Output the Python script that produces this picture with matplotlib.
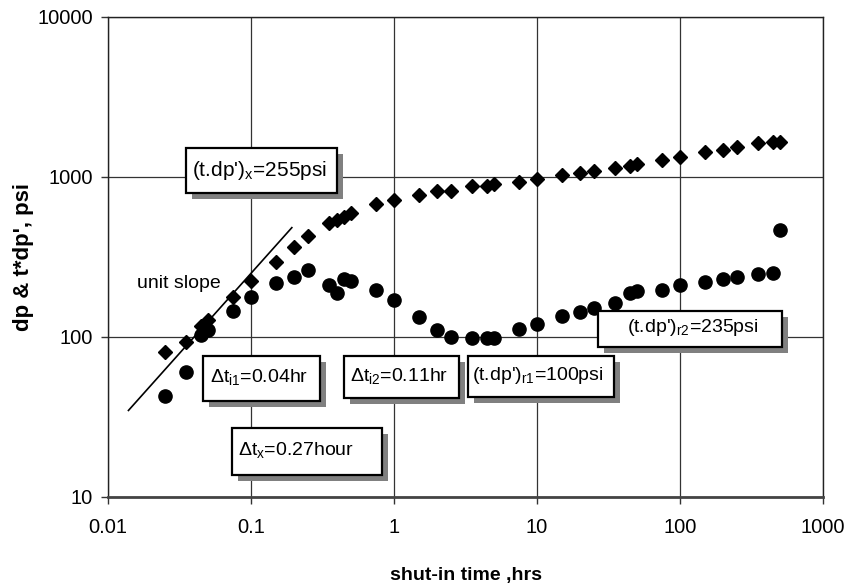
import matplotlib
matplotlib.use("Agg")
import matplotlib.pyplot as plt
from matplotlib.patches import Rectangle

plt.rcParams['font.family'] = ['Liberation Sans', 'DejaVu Sans']
plt.rcParams['mathtext.fontset'] = 'custom'
plt.rcParams['mathtext.rm'] = 'Liberation Sans'
plt.rcParams['mathtext.it'] = 'Liberation Sans'

# ---- data ----
t_hrs = [0.025, 0.035, 0.045, 0.05, 0.075, 0.1, 0.15, 0.2, 0.25, 0.35, 0.4, 0.45,
         0.5, 0.75, 1, 1.5, 2, 2.5, 3.5, 4.5, 5, 7.5, 10, 15, 20, 25, 35, 45, 50,
         75, 100, 150, 200, 250, 350, 450, 500]
dp_psi = [81, 93, 117, 128, 178, 224, 296, 365, 425, 518, 538, 566, 593, 675, 718,
          769, 818, 818, 875, 873, 902, 935, 965, 1029, 1063, 1095, 1133, 1171, 1200,
          1277, 1334, 1427, 1475, 1546, 1624, 1662, 1662]
tdp_psi = [43, 60, 103, 111, 145, 177, 218, 238, 264, 211, 189, 231, 224, 197, 170,
           133, 110, 100, 99, 98, 98, 113, 121, 135, 143, 151, 163, 188, 193, 196,
           211, 222, 230, 238, 248, 252, 467]
unit_t = [0.0139, 0.193]
unit_c = 2500.0

xticks = [0.01, 0.1, 1, 10, 100, 1000]
xticklabels = ['0.01', '0.1', '1', '10', '100', '1000']
yticks = [10, 100, 1000, 10000]
yticklabels = ['10', '100', '1000', '10000']

W, H = 848, 585
L, R, T, B = 108, 823, 17, 497

fig = plt.figure(figsize=(W / 100, H / 100), dpi=100)
ax = fig.add_axes([L / W, 1 - B / H, (R - L) / W, (B - T) / H])
ax.set_xscale('log')
ax.set_yscale('log')
ax.set_xlim(0.01, 1000)
ax.set_ylim(10, 10000)

ax.grid(True, which='major', color='#333333', linewidth=0.9)
ax.set_axisbelow(True)
ax.minorticks_off()
ax.set_xticks(xticks)
ax.set_xticklabels(xticklabels)
ax.set_yticks(yticks)
ax.set_yticklabels(yticklabels)
ax.tick_params(axis='both', which='major', length=5, width=1, labelsize=14.5, color='#333333')
ax.tick_params(axis='x', pad=10)
ax.tick_params(axis='y', pad=6)
for s in ax.spines.values():
    s.set_color('#222222')
    s.set_linewidth(1)
ax.spines['bottom'].set_linewidth(2)
ax.spines['bottom'].set_color('#444444')

ax.plot(t_hrs, dp_psi, linestyle='none', marker='D', markersize=7.5, color='black')
ax.plot(t_hrs, tdp_psi, linestyle='none', marker='o', markersize=9.5, color='black')
ax.plot(unit_t, [unit_c * t for t in unit_t], color='black', linewidth=1.2)

ax.set_xlabel('shut-in time ,hrs', fontsize=14, fontweight='bold', labelpad=22)
ax.set_ylabel("dp & t*dp', psi", fontsize=16, fontweight='bold', labelpad=2)


def fx(px):
    return (px - L) / (R - L)


def fy(py):
    return (B - py) / (B - T)


# annotation boxes: (x0, y0, x1, y1) in pixels, text, text left px, text centre y px, fontsize
boxes = [
    ((186, 148, 337, 193), "(t.dp')$_{\\mathrm{x}}$=255psi", 192, 170, 15),
    ((203, 356, 320, 401), "\u0394t$_{\\mathrm{i1}}$=0.04hr", 210, 377, 14),
    ((344, 356, 459, 398), "\u0394t$_{\\mathrm{i2}}$=0.11hr", 350, 376, 14),
    ((232, 428, 382, 475), "\u0394t$_{\\mathrm{x}}$=0.27hour", 238, 450, 14),
    ((468, 356, 614, 397), "(t.dp')$_{\\mathrm{r1}}$=100psi", 472, 375, 14),
    ((598, 311, 782, 347), "(t.dp')$_{\\mathrm{r2}}$=235psi", 627, 328, 14),
]
sh = 6
for (x0, y0, x1, y1), txt, tx, ty, fs in boxes:
    ax.add_patch(Rectangle((fx(x0 + sh), fy(y1 + sh)), fx(x1) - fx(x0), fy(y0) - fy(y1),
                           transform=ax.transAxes, facecolor='#808080', edgecolor='none',
                           zorder=4, clip_on=False))
    ax.add_patch(Rectangle((fx(x0), fy(y1)), fx(x1) - fx(x0), fy(y0) - fy(y1),
                           transform=ax.transAxes, facecolor='white', edgecolor='black',
                           linewidth=1.6, zorder=5, clip_on=False))
    ax.text(fx(tx), fy(ty), txt, transform=ax.transAxes, ha='left', va='center',
            fontsize=fs, zorder=6)

ax.text(fx(137), fy(284), 'unit slope', transform=ax.transAxes, ha='left', va='center',
        fontsize=14, zorder=6)

fig.savefig('out.png', dpi=100)
